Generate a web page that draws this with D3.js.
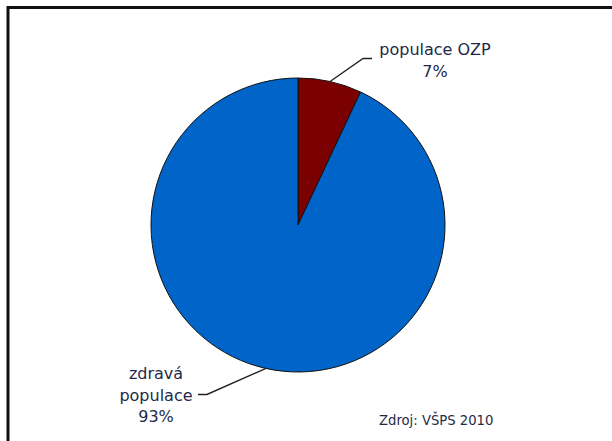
<!DOCTYPE html>
<html>
<head>
<meta charset="utf-8">
<script src="https://cdn.jsdelivr.net/npm/d3@7"></script>
<style>
  body { margin: 0; background: #fff; }
  svg { display: block; }
  text { font-family: Verdana, "DejaVu Sans", sans-serif; font-size: 16px; fill: #1f2a48; }
  .source { font-size: 13.2px; }
</style>
</head>
<body>
<svg id="chart" width="612" height="441"></svg>
<script>
// data
var categories = ["populace OZP", "zdravá populace"];
var values = [7, 93];
var colors = ["#7b0000", "#0064c8"];
var source = "Zdroj: VŠPS 2010";

var width = 612, height = 441;
var cx = 298, cy = 225, radius = 147;

var svg = d3.select("#chart");

// frame (only top and left edges are visible in the crop)
svg.append("rect")
  .attr("x", 8).attr("y", 7.5)
  .attr("width", width + 20).attr("height", height + 20)
  .attr("fill", "none").attr("stroke", "#111").attr("stroke-width", 3);

var pie = d3.pie().sort(null).value(function(d) { return d; });
var arcs = pie(values);
var arc = d3.arc().innerRadius(0).outerRadius(radius);

var g = svg.append("g").attr("transform", "translate(" + cx + "," + cy + ")");

g.selectAll(".slice").data(arcs).enter().append("path")
  .attr("class", "slice")
  .attr("d", arc)
  .attr("fill", function(d, i) { return colors[i]; })
  .attr("stroke", "#111")
  .attr("stroke-width", 1);

// leader lines + labels
var labelLayout = [
  { elbow: [33, -23], tail: 9, lines: ["populace OZP", values[0] + "%"], tx: 435, ty: 55 },
  { elbow: [-59, 26], tail: -9, lines: ["zdravá", "populace", values[1] + "%"], tx: 156, ty: 379 }
];

arcs.forEach(function(d, i) {
  var mid = (d.startAngle + d.endAngle) / 2;
  var p0 = [Math.sin(mid) * radius, -Math.cos(mid) * radius];
  var L = labelLayout[i];
  var p1 = [p0[0] + L.elbow[0], p0[1] + L.elbow[1]];
  var p2 = [p1[0] + L.tail, p1[1]];
  g.append("polyline")
    .attr("points", [p0, p1, p2].map(function(p) { return p.join(","); }).join(" "))
    .attr("fill", "none").attr("stroke", "#222").attr("stroke-width", 1.4);

  var t = svg.append("text").attr("text-anchor", "middle");
  L.lines.forEach(function(s, k) {
    t.append("tspan").attr("x", L.tx).attr("y", L.ty + k * 21.5).text(s);
  });
});

svg.append("text").attr("class", "source")
  .attr("x", 379).attr("y", 425)
  .text(source);
</script>
</body>
</html>
